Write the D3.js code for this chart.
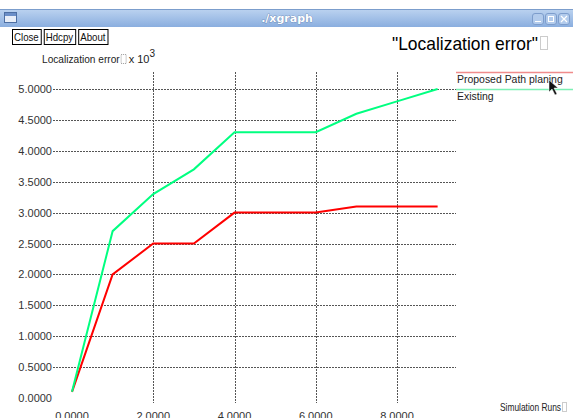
<!DOCTYPE html>
<html>
<head>
<meta charset="utf-8">
<script src="https://cdn.jsdelivr.net/npm/d3@7"></script>
<style>
  body { margin: 0; background: #fff; }
  svg { display: block; }
</style>
</head>
<body>
<svg id="chart" width="573" height="418"></svg>
<script>
const runs = [0, 1, 2, 3, 4, 5, 6, 7, 8, 9];
const proposed = [0.1, 2.0, 2.5, 2.5, 3.0, 3.0, 3.0, 3.1, 3.1, 3.1];
const existing = [0.1, 2.7, 3.3, 3.7, 4.3, 4.3, 4.3, 4.6, 4.8, 5.0];
const xTicks = [0, 2, 4, 6, 8];
const yTicks = [0, 0.5, 1, 1.5, 2, 2.5, 3, 3.5, 4, 4.5, 5];
const seriesNames = ["Proposed Path planing", "Existing"];
const seriesColors = ["#ff0000", "#00ff80"];
const legendColors = ["#f08c8c", "#7cf0b4"];
const buttons = ["Close", "Hdcpy", "About"];

const font = "'Liberation Sans', Arial, sans-serif";
const svg = d3.select("#chart");

const x = d3.scaleLinear().domain([0, 8]).range([72, 397]);
const y = d3.scaleLinear().domain([0, 5]).range([398, 89]);
const gridLeft = 53, gridRight = 456, gridTop = 72, gridBottom = 403;

// squeeze a text to the narrower look of the xgraph font
function narrow(sel, k) {
  const len = sel.node().getComputedTextLength();
  sel.attr("textLength", len * k).attr("lengthAdjust", "spacingAndGlyphs");
  return len * k;
}

// missing-glyph box that xgraph draws
function tofu(px, py, w, h) {
  svg.append("rect")
    .attr("x", px + 0.5).attr("y", py + 0.5).attr("width", w).attr("height", h)
    .attr("fill", "none").attr("stroke", "#999").attr("stroke-dasharray", "1,1");
}

// window title bar
const grad = svg.append("defs").append("linearGradient")
  .attr("id", "bar").attr("x1", 0).attr("x2", 0).attr("y1", 0).attr("y2", 1);
grad.append("stop").attr("offset", "0%").attr("stop-color", "#bcd3f0");
grad.append("stop").attr("offset", "100%").attr("stop-color", "#8aaedf");

svg.append("rect")
  .attr("x", 0).attr("y", 9).attr("width", 573).attr("height", 18)
  .attr("fill", "url(#bar)");
svg.append("line")
  .attr("x1", 0).attr("x2", 573).attr("y1", 9.5).attr("y2", 9.5)
  .attr("stroke", "#7b9dcc");

svg.append("rect")
  .attr("x", 4.5).attr("y", 12.5).attr("width", 12).attr("height", 10)
  .attr("fill", "#e8eef8").attr("stroke", "#4d6fa3");
svg.append("rect")
  .attr("x", 5).attr("y", 13).attr("width", 11).attr("height", 3)
  .attr("fill", "#6b8fc8");

svg.append("text")
  .attr("x", 287).attr("y", 22)
  .attr("text-anchor", "middle")
  .attr("font-family", "'DejaVu Sans', sans-serif")
  .attr("font-size", "11px")
  .attr("font-weight", "bold")
  .attr("fill", "#ffffff")
  .attr("stroke", "#4f6f9f")
  .attr("stroke-width", 0.6)
  .attr("paint-order", "stroke")
  .text("./xgraph");

[532, 545, 558].forEach(function(wx) {
  svg.append("rect")
    .attr("x", wx + 0.5).attr("y", 13.5).attr("width", 11).attr("height", 11)
    .attr("rx", 2.5)
    .attr("fill", "#b2cbec").attr("stroke", "#7d9dcc");
});
svg.append("line").attr("x1", 535).attr("x2", 541).attr("y1", 21.5).attr("y2", 21.5).attr("stroke", "#fff");
svg.append("rect").attr("x", 548.5).attr("y", 16.5).attr("width", 5).attr("height", 5).attr("fill", "none").attr("stroke", "#fff");
svg.append("path").attr("d", "M561,16 L567,22 M567,16 L561,22").attr("stroke", "#fff").attr("stroke-width", 1.2);

// buttons
let bx = 12;
buttons.forEach(function(label) {
  const g = svg.append("g");
  const t = g.append("text")
    .attr("x", bx + 2).attr("y", 41)
    .attr("font-family", font)
    .attr("font-size", "11px")
    .attr("fill", "#111")
    .text(label);
  const w = narrow(t, 0.88) + 4;
  g.insert("rect", "text")
    .attr("x", bx + 0.5).attr("y", 29.5).attr("width", w).attr("height", 15)
    .attr("fill", "#fff").attr("stroke", "#000");
  bx += w + 3;
});

// title
svg.append("text")
  .attr("x", 392).attr("y", 50)
  .attr("font-family", font)
  .attr("font-size", "19px")
  .attr("fill", "#000")
  .attr("textLength", 146)
  .attr("lengthAdjust", "spacingAndGlyphs")
  .text("\"Localization error\"");
tofu(540, 36, 7, 13);

// y axis label
const yl1 = svg.append("text")
  .attr("x", 42).attr("y", 63)
  .attr("font-family", font)
  .attr("font-size", "11px")
  .attr("fill", "#222")
  .text("Localization error");
const yw = narrow(yl1, 0.92);
tofu(42 + yw + 1, 54, 5, 9);
const yl2 = svg.append("text")
  .attr("x", 42 + yw + 9).attr("y", 63)
  .attr("font-family", font)
  .attr("font-size", "11px")
  .attr("fill", "#222");
yl2.append("tspan").text("x 10");
yl2.append("tspan").attr("dy", -6).attr("font-size", "10px").text("3");

// grid
svg.append("g").selectAll("line")
  .data(yTicks.filter(d => d > 0))
  .join("line")
  .attr("x1", gridLeft).attr("x2", gridRight)
  .attr("y1", d => Math.round(y(d)) + 0.5)
  .attr("y2", d => Math.round(y(d)) + 0.5)
  .attr("stroke", "#555")
  .attr("stroke-dasharray", "2,1");

svg.append("g").selectAll("line")
  .data(xTicks.filter(d => d > 0))
  .join("line")
  .attr("x1", d => Math.round(x(d)) + 0.5)
  .attr("x2", d => Math.round(x(d)) + 0.5)
  .attr("y1", gridTop).attr("y2", gridBottom)
  .attr("stroke", "#555")
  .attr("stroke-dasharray", "2,1");

// tick labels
svg.append("g").selectAll("text")
  .data(yTicks)
  .join("text")
  .attr("x", 52)
  .attr("y", d => y(d) + 4)
  .attr("text-anchor", "end")
  .attr("font-family", font)
  .attr("font-size", "11px")
  .attr("fill", "#333")
  .text(d => d.toFixed(4));

svg.append("g").selectAll("text")
  .data(xTicks)
  .join("text")
  .attr("x", d => x(d))
  .attr("y", 420)
  .attr("text-anchor", "middle")
  .attr("font-family", font)
  .attr("font-size", "11px")
  .attr("fill", "#333")
  .text(d => d.toFixed(4));

svg.append("text")
  .attr("x", 500).attr("y", 411)
  .attr("font-family", font)
  .attr("font-size", "11px")
  .attr("fill", "#222")
  .attr("textLength", 61)
  .attr("lengthAdjust", "spacingAndGlyphs")
  .text("Simulation Runs");
tofu(562, 402, 4, 9);

// series
const line = d3.line()
  .x((d, i) => x(runs[i]))
  .y(d => y(d));

[proposed, existing].forEach(function(vals, i) {
  svg.append("path")
    .datum(vals)
    .attr("d", line)
    .attr("fill", "none")
    .attr("stroke", seriesColors[i])
    .attr("stroke-width", 2);
});

// legend
seriesNames.forEach(function(name, i) {
  const ly = i === 0 ? 72.5 : 89.5;
  svg.append("line")
    .attr("x1", gridRight).attr("x2", 573)
    .attr("y1", ly).attr("y2", ly)
    .attr("stroke", legendColors[i])
    .attr("stroke-width", 1.5);
  const t = svg.append("text")
    .attr("x", 457).attr("y", ly + 10)
    .attr("font-family", font)
    .attr("font-size", "11px")
    .attr("fill", "#222")
    .text(name);
  narrow(t, 0.95);
});

// mouse pointer
svg.append("path")
  .attr("d", "M549,80 L549,92 L552,89 L555,95 L557,94 L554,88 L558,88 Z")
  .attr("fill", "#111").attr("stroke", "#fff").attr("stroke-width", 0.5);
</script>
</body>
</html>
